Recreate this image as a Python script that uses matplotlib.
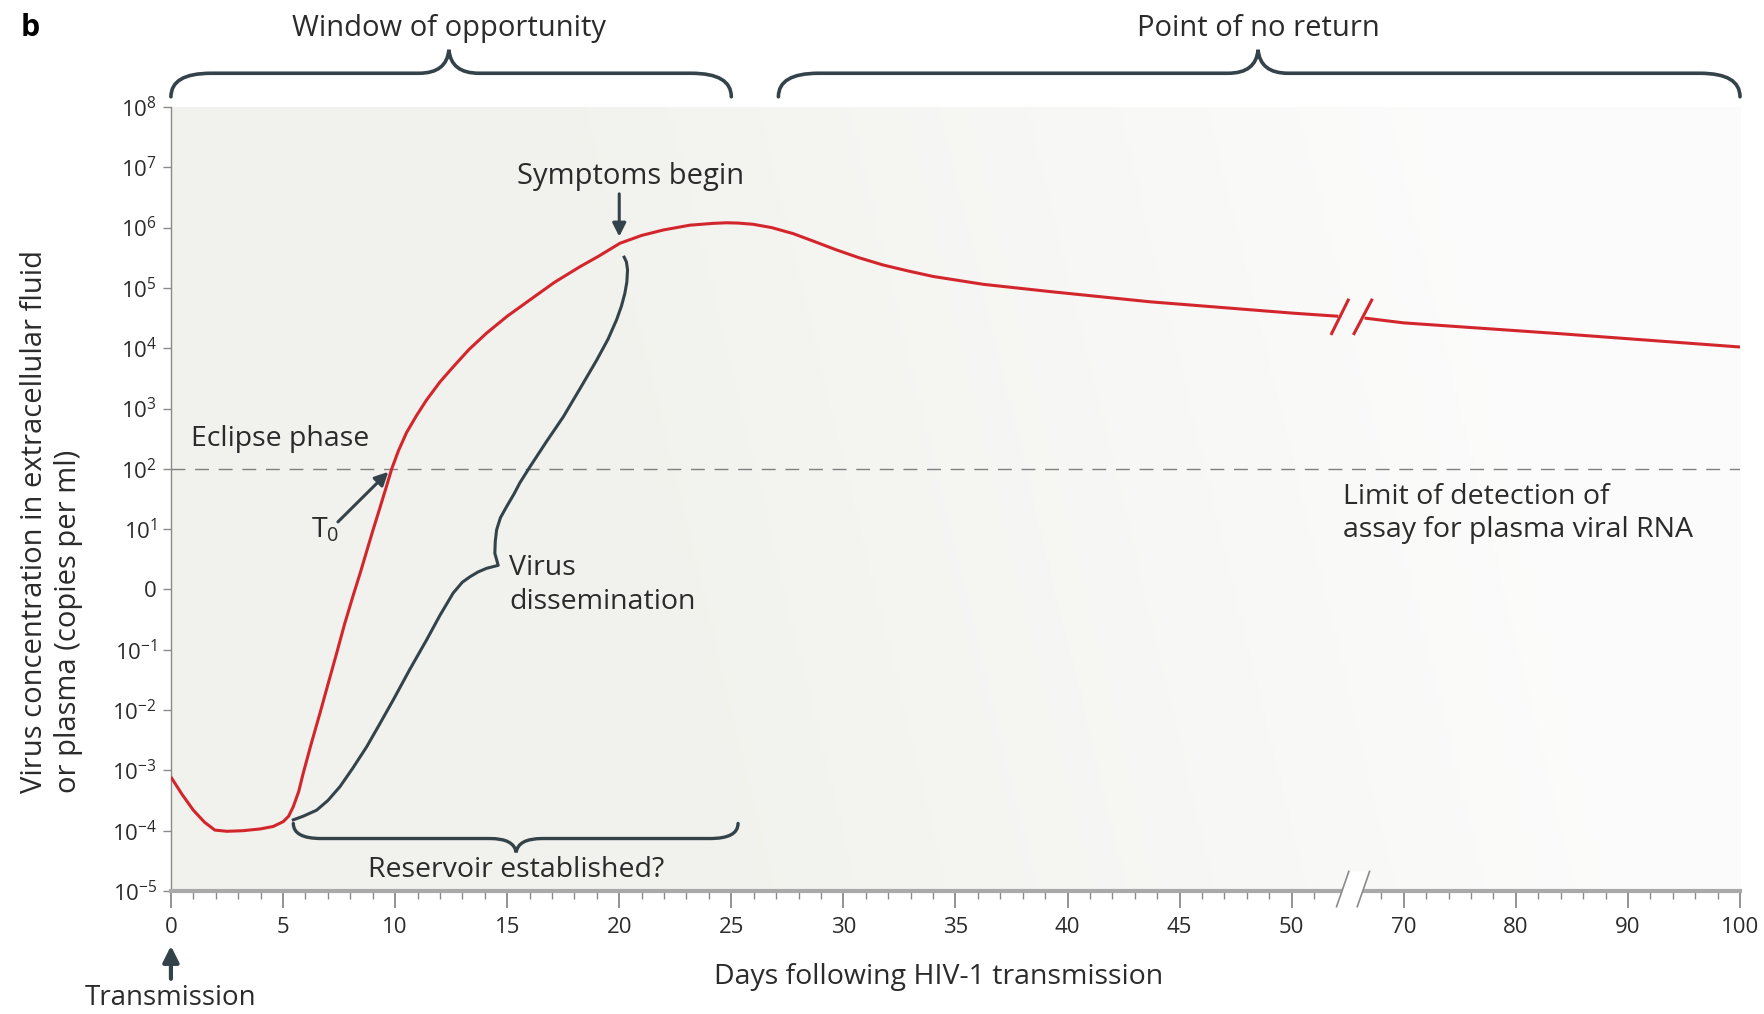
import numpy as np
import matplotlib.pyplot as plt
from matplotlib.path import Path
from matplotlib.patches import PathPatch, Polygon
from matplotlib.transforms import IdentityTransform, blended_transform_factory

plt.rcParams['font.family'] = ['Open Sans', 'DejaVu Sans']
plt.rcParams['mathtext.default'] = 'regular'

# -----------------------------
# data (days, log10 copies per ml)
# -----------------------------
red_days_a = [0, 0.5, 1.0, 1.5, 1.96, 2.5, 3.22, 4.0, 4.56, 5.01, 5.25, 5.46, 5.7, 5.9, 6.25,
              6.65, 7.0, 7.39, 7.75, 8.13, 8.45, 8.73, 9.02, 9.32, 9.6, 9.85, 10.15, 10.51,
              10.95, 11.4, 12.0, 12.59, 13.3, 14.08, 15.0, 16.01, 17.1, 18.24, 19.1, 20.03,
              21.0, 21.96, 23.15, 24.19, 24.79, 25.3, 25.97, 26.8, 27.76, 28.7, 29.69, 30.7,
              31.77, 32.9, 34.0, 36.23, 39.2, 43.67, 50.4, 58.3]
red_log_a = [-3.11, -3.4, -3.66, -3.86, -3.99, -4.01, -4.0, -3.97, -3.93, -3.85, -3.76, -3.6,
             -3.35, -3.05, -2.57, -2.05, -1.58, -1.06, -0.57, -0.1, 0.28, 0.63, 0.99, 1.35,
             1.69, 2.0, 2.3, 2.6, 2.88, 3.14, 3.44, 3.69, 3.98, 4.25, 4.53, 4.80, 5.09, 5.35,
             5.53, 5.74, 5.87, 5.96, 6.04, 6.07, 6.08, 6.075, 6.055, 6.0, 5.9, 5.77, 5.63, 5.5,
             5.38, 5.28, 5.19, 5.06, 4.94, 4.77, 4.58, 4.53]
red_days_b = [63, 70, 84, 100]
red_log_b = [4.5, 4.42, 4.24, 4.02]

# virus dissemination bracket, following the viral load curve
dis_days = [5.46, 5.9, 6.5, 7.0, 7.54, 8.1, 8.73, 9.3, 9.92, 10.65, 11.4, 12.0, 12.59, 13.0,
            13.34, 13.7, 14.08, 14.6, 14.45, 14.47, 14.53, 14.7, 14.97, 15.3, 15.57, 16.01,
            16.75, 17.5, 18.25, 18.99, 19.5, 19.88, 20.1, 20.25, 20.34, 20.37, 20.32, 20.22]
dis_log = [-3.82, -3.76, -3.66, -3.5, -3.27, -2.97, -2.61, -2.24, -1.83, -1.33, -0.84, -0.43,
           -0.06, 0.12, 0.21, 0.29, 0.35, 0.40, 0.6, 0.8, 0.99, 1.19, 1.37, 1.58, 1.77, 2.03,
           2.45, 2.86, 3.33, 3.80, 4.15, 4.47, 4.7, 4.91, 5.1, 5.30, 5.43, 5.51]

detection_limit = 1e2
y_ticks = list(range(-5, 9))
y_labels = ['$10^{%d}$' % e if e != 0 else '0' for e in y_ticks]
x_major = [0, 5, 10, 15, 20, 25, 30, 35, 40, 45, 50, 70, 80, 90, 100]
x_minor = [d for d in range(1, 50) if d % 5] + [54, 66] + [d for d in range(72, 100, 2) if d % 10]

# spans of the braces (start, end, tip) in days
window_span = (0, 25, 12.4)
no_return_span = (27.1, 100, 48.5)
reservoir_span = (5.46, 25.3, 15.4)

RED = '#d3262c'
SLATE = '#34434a'
AXGREY = '#a9a9a9'
TXT = '#2b2b2b'


def fwd(d):
    return np.interp(d, [0, 50, 70, 100], [0, 50, 55, 70])


def inv(u):
    return np.interp(u, [0, 50, 55, 70], [0, 50, 70, 100])


fig = plt.figure(figsize=(17.64, 10.14), dpi=100)
pos = [0.0969, 0.1213, 0.8895, 0.7732]

# background wash
bg = fig.add_axes(pos, zorder=0)
xx = np.linspace(0, 1, 400)
yy = np.linspace(0, 1, 200)
X, Y = np.meshgrid(xx, yy)
t = np.clip((X + 0.12 * Y - 0.35) / 0.6, 0, 1)
left = np.array([0.947, 0.947, 0.930])
right = np.array([0.988, 0.988, 0.988])
img = left[None, None, :] * (1 - t[..., None]) + right[None, None, :] * t[..., None]
bg.imshow(img, aspect='auto', extent=[0, 1, 0, 1], origin='lower')
bg.axis('off')

ax = fig.add_axes(pos, zorder=1)
ax.set_facecolor('none')
ax.set_xscale('function', functions=(fwd, inv))
ax.set_yscale('log')
ax.set_xlim(0, 100)
ax.set_ylim(1e-5, 1e8)

# curves
ax.plot(red_days_a, [10 ** v for v in red_log_a], color=RED, lw=2.2, solid_capstyle='butt', zorder=4)
ax.plot(red_days_b, [10 ** v for v in red_log_b], color=RED, lw=2.2, solid_capstyle='butt', zorder=4)
ax.plot(dis_days, [10 ** v for v in dis_log], color=SLATE, lw=2.2, zorder=3)
ax.axhline(detection_limit, color='#808080', lw=1.0, dashes=(10, 7), zorder=2)

# axes styling
for s in ['top', 'right']:
    ax.spines[s].set_visible(False)
ax.spines['bottom'].set_color(AXGREY)
ax.spines['bottom'].set_linewidth(3)
ax.spines['left'].set_color('#8a8a8a')
ax.spines['left'].set_linewidth(1)
ax.set_yticks([10.0 ** e for e in y_ticks])
ax.set_yticklabels(y_labels)
ax.yaxis.set_minor_locator(plt.NullLocator())
ax.set_xticks(x_major)
ax.set_xticklabels([str(d) for d in x_major])
ax.set_xticks(x_minor, minor=True)
ax.tick_params(axis='y', length=6, width=1, color='#8a8a8a', labelsize=16, labelcolor=TXT, pad=4)
ax.tick_params(axis='x', which='major', length=12, width=1.3, color='#8a8a8a', labelsize=16,
               labelcolor=TXT, pad=7)
ax.tick_params(axis='x', which='minor', length=6, width=1, color='#8a8a8a')

fig.canvas.draw()
tdata = ax.transData
blend = blended_transform_factory(ax.transData, ax.transAxes)


def brace(x0, x1, xt, ye, ym, yt, r_end=30, r_tip=28, lw=2.6):
    # curly brace built in display pixels
    verts = [(x0, ye), (x0, ym), (x0 + r_end, ym), (xt - r_tip, ym), (xt - 2, ym), (xt, yt),
             (xt + 2, ym), (xt + r_tip, ym), (x1 - r_end, ym), (x1, ym), (x1, ye)]
    codes = [Path.MOVETO, Path.CURVE3, Path.CURVE3, Path.LINETO, Path.CURVE3, Path.CURVE3,
             Path.CURVE3, Path.CURVE3, Path.LINETO, Path.CURVE3, Path.CURVE3]
    patch = PathPatch(Path(verts, codes), fill=False, edgecolor=SLATE, lw=lw,
                      transform=IdentityTransform(), clip_on=False, capstyle='round', zorder=5)
    fig.add_artist(patch)


def px_axes(d, frac):
    return blend.transform((d, frac))


for span in [window_span, no_return_span]:
    a = px_axes(span[0], 1.013)
    b = px_axes(span[1], 1.013)
    m = px_axes(span[2], 1.043)
    tp = px_axes(span[2], 1.073)
    brace(a[0], b[0], m[0], a[1], m[1], tp[1], r_end=40, r_tip=30)

a = tdata.transform((reservoir_span[0], 10 ** -3.88))
b = tdata.transform((reservoir_span[1], 10 ** -3.92))
m = tdata.transform((reservoir_span[2], 10 ** -4.13))
tp = tdata.transform((reservoir_span[2], 10 ** -4.36))
brace(a[0], b[0], m[0], a[1], m[1], tp[1], r_end=28, r_tip=26, lw=2.4)

# axis break on the x-axis
s1 = [px_axes(58.0, -0.02), px_axes(60.2, 0.025)]
s2 = [px_axes(61.7, -0.02), px_axes(63.9, 0.025)]
fig.add_artist(Polygon([s1[0], s1[1], s2[1], s2[0]], closed=True, facecolor='white',
                       edgecolor='none', transform=IdentityTransform(), zorder=6))
for s in (s1, s2):
    fig.add_artist(plt.Line2D([s[0][0], s[1][0]], [s[0][1], s[1][1]], color='#8a8a8a', lw=1.2,
                              transform=IdentityTransform(), zorder=7))

# break marks on the red curve
for d0, d1 in [(57.0, 60.2), (61.0, 64.4)]:
    ax.plot([d0, d1], [10 ** 4.22, 10 ** 4.82], color=RED, lw=2.2, solid_capstyle='butt', zorder=4)

# annotations
fs = 20.5
ax.text(0.9, 10 ** 2.5, 'Eclipse phase', fontsize=fs, color=TXT, ha='left', va='center')
ax.text(6.9, 10 ** 0.98, 'T$_0$', fontsize=fs, color=TXT, ha='center', va='center')
ax.annotate('', xy=(9.7, 10 ** 1.95), xytext=(7.45, 10 ** 1.12),
            arrowprops=dict(arrowstyle='-|>', color=SLATE, lw=2.2, mutation_scale=20,
                            shrinkA=0, shrinkB=0))
ax.text(15.1, 10 ** 0.07, 'Virus\ndissemination', fontsize=fs, color=TXT, ha='left',
        va='center', linespacing=1.3)
ax.text(59.2, 10 ** 1.26, 'Limit of detection of\nassay for plasma viral RNA', fontsize=fs,
        color=TXT, ha='left', va='center', linespacing=1.25)
ax.text(15.4, 10 ** -4.65, 'Reservoir established?', fontsize=fs, color=TXT, ha='center',
        va='center')
ax.text(20.5, 10 ** 6.84, 'Symptoms begin', fontsize=21, color=TXT, ha='center', va='center')
ax.annotate('', xy=(20.0, 10 ** 5.85), xytext=(20.0, 10 ** 6.56),
            arrowprops=dict(arrowstyle='-|>', color=SLATE, lw=2.2, mutation_scale=20,
                            shrinkA=0, shrinkB=0))
ax.text(window_span[2], 1.100, 'Window of opportunity', transform=blend, fontsize=21,
        color=TXT, ha='center', va='center')
ax.text(no_return_span[2], 1.100, 'Point of no return', transform=blend, fontsize=21,
        color=TXT, ha='center', va='center')
ax.annotate('', xy=(0, -0.070), xytext=(0, -0.112), xycoords=blend, textcoords=blend,
            arrowprops=dict(arrowstyle='-|>', color=SLATE, lw=3, mutation_scale=24,
                            shrinkA=0, shrinkB=0))
ax.text(0, -0.136, 'Transmission', transform=blend, fontsize=20, color=TXT, ha='center',
        va='center', clip_on=False)

fig.text(0.532, 0.036, 'Days following HIV-1 transmission', fontsize=fs, color=TXT,
         ha='center', va='center')
fig.text(0.0293, 0.218, 'Virus concentration in extracellular fluid\nor plasma (copies per ml)',
         fontsize=21, color=TXT, ha='center', va='bottom', rotation=90, linespacing=1.2,
         multialignment='left')
fig.text(0.017, 0.972, 'b', fontsize=22, fontweight='bold', color='black', ha='center',
         va='center')

fig.savefig('out.png', dpi=100)
